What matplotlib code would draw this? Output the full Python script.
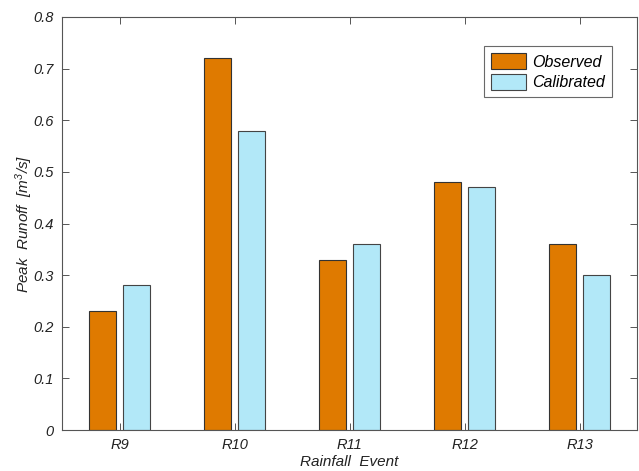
import numpy as np
import matplotlib
matplotlib.use("Agg")
import matplotlib.pyplot as plt

plt.rcParams['font.family'] = ['Liberation Sans', 'DejaVu Sans']
plt.rcParams['font.style'] = 'italic'
plt.rcParams['mathtext.fontset'] = 'custom'
plt.rcParams['mathtext.rm'] = 'Liberation Sans:italic'
plt.rcParams['mathtext.it'] = 'Liberation Sans:italic'

events = ['R9', 'R10', 'R11', 'R12', 'R13']
observed = [0.23, 0.72, 0.33, 0.48, 0.36]
calibrated = [0.28, 0.58, 0.36, 0.47, 0.30]

x = np.arange(1, len(events) + 1)
w = 0.235

fig = plt.figure(figsize=(6.39, 4.71), dpi=100)
ax = fig.add_axes([62/639, 1 - 430/471, 575/639, 413/471])

ax.bar(x - 0.145, observed, w, color='#DF7A00', edgecolor='#333333', linewidth=0.8, label='Observed')
ax.bar(x + 0.145, calibrated, w, color='#B2E8F8', edgecolor='#444444', linewidth=0.8, label='Calibrated')

ax.set_xlim(0.5, 5.5)
ax.set_ylim(0, 0.8)
ax.set_xticks(x)
ax.set_xticklabels(events)
ax.set_yticks(np.arange(0, 0.81, 0.1))
ax.set_yticklabels(['0', '0.1', '0.2', '0.3', '0.4', '0.5', '0.6', '0.7', '0.8'])
ax.tick_params(direction='in', top=True, right=True, length=5, width=0.7,
               colors='#555555', labelcolor='#222222', labelsize=10.5, pad=6)
for s in ax.spines.values():
    s.set_color('#555555')
    s.set_linewidth(0.8)

ax.set_xlabel('Rainfall  Event', fontsize=11, color='#222222', labelpad=2)
ax.set_ylabel('Peak  Runoff  [m$^{3}$/s]', fontsize=11, color='#222222', labelpad=-1)

leg = ax.legend(loc='upper right', bbox_to_anchor=(0.957, 0.93), borderaxespad=0,
                fancybox=False, edgecolor='#444444', fontsize=11.5, handlelength=2.2,
                handleheight=1.2, borderpad=0.45, labelspacing=0.25, handletextpad=0.4)
leg.get_frame().set_linewidth(0.8)

fig.savefig('out.png', dpi=100)
